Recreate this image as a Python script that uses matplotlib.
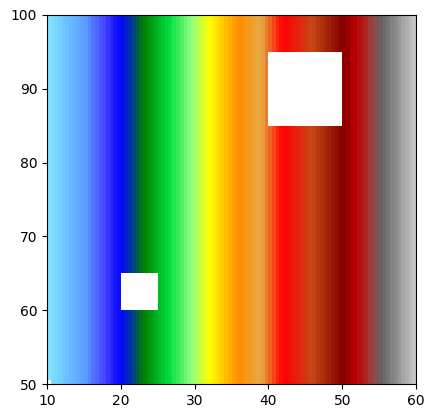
import numpy as np
import matplotlib
matplotlib.use("Agg")
import matplotlib.pyplot as plt
from matplotlib.colors import LinearSegmentedColormap

# colour anchors (value -> rgb)
anchor_vals = [10, 15, 17.5, 20, 21.5, 23, 26.5, 29.5, 32, 36, 39, 40, 42, 46, 50, 52, 54, 55.5, 60]
anchor_cols = [(128, 230, 255), (90, 160, 255), (75, 75, 255), (0, 0, 255), (0, 60, 150),
               (0, 128, 0), (0, 220, 60), (140, 255, 130), (255, 255, 0), (255, 140, 0),
               (230, 170, 70), (240, 110, 40), (255, 0, 0), (200, 70, 20), (128, 0, 0),
               (190, 0, 0), (160, 60, 60), (100, 100, 100), (200, 200, 200)]

# masked (white) rectangles: x0, x1, y0, y1
holes = [(20, 25, 60, 65), (40, 50, 85, 95), (10, 10.5, 50, 50.5)]

xmin, xmax, ymin, ymax, step = 10, 60, 50, 100, 0.5

vmin, vmax = anchor_vals[0], anchor_vals[-1]
nodes = [(v - vmin) / (vmax - vmin) for v in anchor_vals]
cmap = LinearSegmentedColormap.from_list(
    "custom", list(zip(nodes, [tuple(c / 255 for c in col) for col in anchor_cols])), N=256)

xe = np.arange(xmin, xmax + step, step)
ye = np.arange(ymin, ymax + step, step)
xc = (xe[:-1] + xe[1:]) / 2
yc = (ye[:-1] + ye[1:]) / 2
X, Y = np.meshgrid(xc, yc)
Z = X.copy()
mask = np.zeros_like(Z, dtype=bool)
for x0, x1, y0, y1 in holes:
    mask |= (X > x0) & (X < x1) & (Y > y0) & (Y < y1)
Z = np.ma.masked_array(Z, mask)

fig = plt.figure(figsize=(4.34, 4.18), dpi=100)
ax = fig.add_axes([47 / 434, 34 / 418, 369 / 434, 369 / 418])
ax.pcolormesh(xe, ye, Z, cmap=cmap, vmin=vmin, vmax=vmax, shading="flat")
ax.set_xlim(xmin, xmax)
ax.set_ylim(ymin, ymax)
ax.set_xticks([10, 20, 30, 40, 50, 60])
ax.set_yticks([50, 60, 70, 80, 90, 100])
fig.savefig("out.png", dpi=100)
